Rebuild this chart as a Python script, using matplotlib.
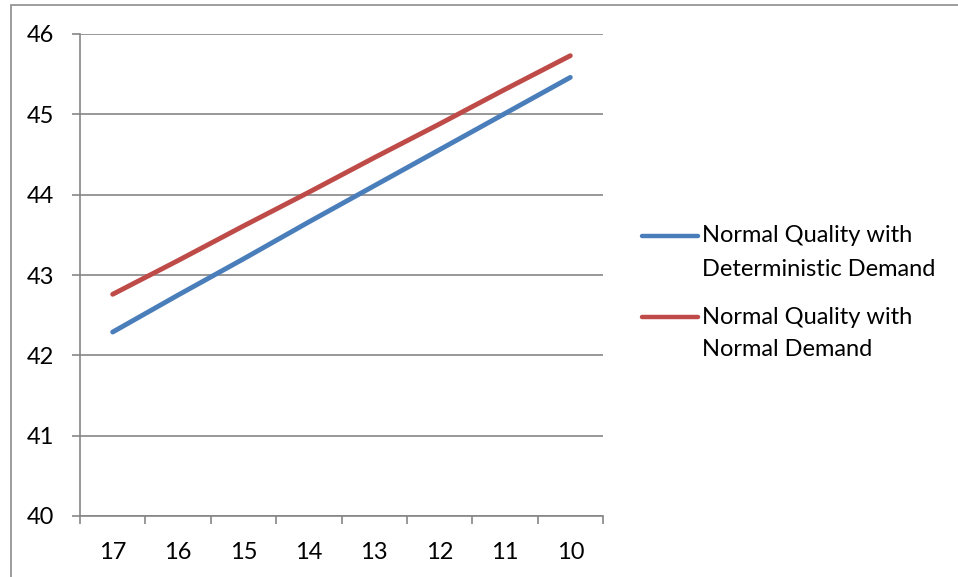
import matplotlib
matplotlib.use("Agg")
import matplotlib.pyplot as plt
from matplotlib.lines import Line2D
from matplotlib.patches import Rectangle
import numpy as np

plt.rcParams['font.family'] = ['Lato', 'DejaVu Sans']

categories = ["17", "16", "15", "14", "13", "12", "11", "10"]
det_demand = [42.29, 42.75, 43.20, 43.66, 44.11, 44.56, 45.01, 45.46]
norm_demand = [42.76, 43.18, 43.61, 44.03, 44.46, 44.88, 45.31, 45.73]
series_names = ["Normal Quality with\nDeterministic Demand",
                "Normal Quality with\nNormal Demand"]
colors = ["#4A7EBB", "#BE4B48"]
yticks = [40, 41, 42, 43, 44, 45, 46]

W, H = 958, 577
FS = 17
fig = plt.figure(figsize=(W / 100, H / 100), dpi=100)

# outer chart border
fig.patches.append(Rectangle((11 / W, -0.1), 2.0, (H - 5) / H + 0.1,
                             transform=fig.transFigure, fill=False,
                             edgecolor="#8c8c8c", linewidth=1.2))

ax = fig.add_axes([80 / W, 1 - 516 / H, (603 - 80) / W, (516 - 34) / H])
x = np.arange(len(categories))
for vals, c in zip([det_demand, norm_demand], colors):
    ax.plot(x, vals, color=c, linewidth=3.5, solid_capstyle="round")

ax.set_xlim(-0.5, len(categories) - 0.5)
ax.set_ylim(40, 46)
ax.set_yticks(yticks)
ax.set_yticklabels([str(v) for v in yticks])
ax.set_xticks(x)
ax.set_xticklabels(categories)
ax.set_xticks(np.arange(-0.5, len(categories)), minor=True)
ax.tick_params(axis="x", which="major", length=0, pad=18.5, labelsize=FS)
ax.tick_params(axis="x", which="minor", length=6, width=1.2, color="#868686", direction="out")
ax.tick_params(axis="y", length=5.5, width=1.2, color="#868686", direction="out", pad=13.2, labelsize=FS)

ax.grid(axis="y", color="#868686", linewidth=1.2)
ax.set_axisbelow(True)
for side in ["top", "right"]:
    ax.spines[side].set_visible(False)
for side in ["left", "bottom"]:
    ax.spines[side].set_color("#868686")
    ax.spines[side].set_linewidth(1.2)

# legend (Excel style: handle aligned with first text line)
leg_y = [236, 317]
for yy, name, c in zip(leg_y, series_names, colors):
    fig.add_artist(Line2D([642 / W, 698 / W], [1 - yy / H, 1 - yy / H],
                          transform=fig.transFigure, color=c, linewidth=3.2,
                          solid_capstyle="round"))
    for k, line in enumerate(name.split("\n")):
        fig.text(702 / W, 1 - (yy + 33 * k) / H, line, ha="left", va="center",
                 fontsize=FS)

fig.savefig("out.png", dpi=100)
